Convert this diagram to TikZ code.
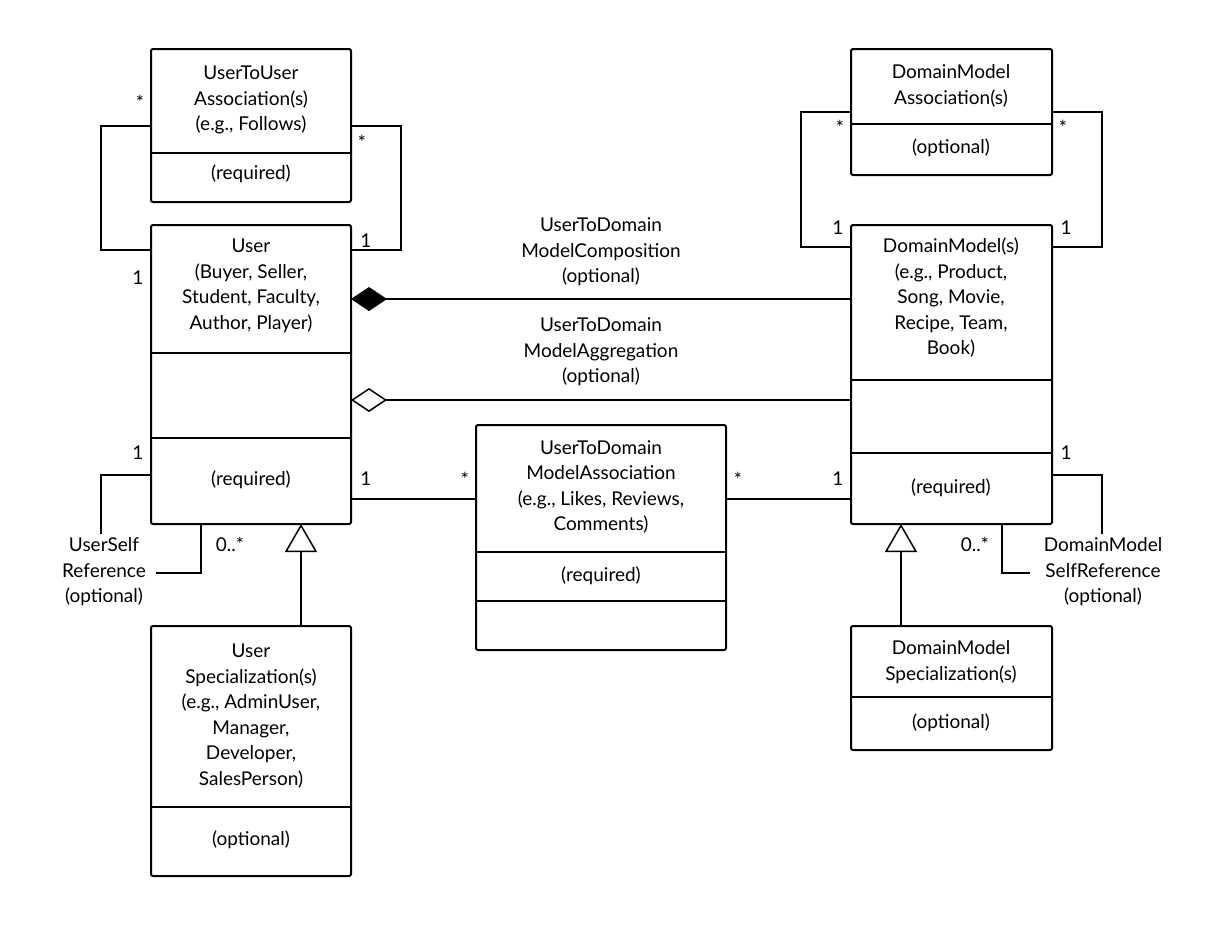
\documentclass[tikz,border=0pt]{standalone}
\usepackage{fontspec}
\setmainfont{Lato}
\usetikzlibrary{arrows.meta}
\begin{document}
\begin{tikzpicture}[x=1pt,y=-1pt,line width=2pt,
  box/.style={draw,rounded corners=2pt,inner sep=0pt},
  txt/.style={align=center,font=\fontsize{19}{25.5}\selectfont,inner sep=0pt},
  lbl/.style={font=\fontsize{19}{22}\selectfont,inner sep=0pt},
  comp/.style={-{Diamond[fill=black,length=36pt,width=24pt,line width=1.5pt]}},
  aggr/.style={-{Diamond[fill=white,length=36pt,width=24pt,line width=1.5pt]}},
  gen/.style={-{Triangle[open,fill=white,length=28pt,width=32pt,line width=1.5pt]}}]
\useasboundingbox (0,0) rectangle (1224,926);
% boxes
\draw[box] (151,49) rectangle (351,202) node[pos=0,anchor=north west,inner sep=0](uu){};
\coordinate (uuL) at (151,126); \coordinate (uuR) at (351,126);
\draw (151,153) -- (351,153);
\node[txt] (uut) at (251,100) {UserToUser\\Association(s)\\(e.g., Follows)};
\node[txt] (uur) at (251,174) {(required)};

\draw[box] (151,225) rectangle (351,524);
\draw (151,353) -- (351,353); \draw (151,438) -- (351,438);
\node[txt] (ut) at (251,286) {User\\(Buyer, Seller,\\Student, Faculty,\\Author, Player)};
\node[txt] (ur) at (251,480) {(required)};

\draw[box] (151,626) rectangle (351,876);
\draw (151,807) -- (351,807);
\node[txt] (ust) at (251,716) {User\\Specialization(s)\\(e.g., AdminUser,\\Manager,\\Developer,\\SalesPerson)};
\node[txt] (usr) at (251,840) {(optional)};

\draw[box] (851,49) rectangle (1052,175);
\draw (851,124) -- (1052,124);
\node[txt] (dat) at (951,86) {DomainModel\\Association(s)};
\node[txt] (dar) at (951,148) {(optional)};

\draw[box] (851,225) rectangle (1052,524);
\draw (851,380) -- (1052,380); \draw (851,453) -- (1052,453);
\node[txt] (dt) at (951,298) {DomainModel(s)\\(e.g., Product,\\Song, Movie,\\Recipe, Team,\\Book)};
\node[txt] (dr) at (951,488) {(required)};

\draw[box] (851,626) rectangle (1052,750);
\draw (851,697) -- (1052,697);
\node[txt] (dst) at (951,662) {DomainModel\\Specialization(s)};
\node[txt] (dsr) at (951,723) {(optional)};

\draw[box] (476,425) rectangle (726,650);
\draw (476,552) -- (726,552); \draw (476,601) -- (726,601);
\node[txt] (at) at (601,487) {UserToDomain\\ModelAssociation\\(e.g., Likes, Reviews,\\Comments)};
\node[txt] (ar) at (601,576) {(required)};

% self associations
\draw (151,250) -- (101,250) -- (101,126) -- (151,126);
\draw (351,250) -- (401,250) -- (401,126) -- (351,126);
\node[lbl] at (140,102) {*}; \node[lbl] at (138,278) {1};
\node[lbl] at (362,142) {*}; \node[lbl] at (366,241) {1};
\draw (851,247) -- (801,247) -- (801,112) -- (851,112);
\draw (1052,247) -- (1102,247) -- (1102,112) -- (1052,112);
\node[lbl] at (840,127) {*}; \node[lbl] at (838,228) {1};
\node[lbl] at (1063,127) {*}; \node[lbl] at (1066,228) {1};

% composition / aggregation
\draw[comp] (851,299) -- (351,299);
\node[txt] (cl) at (601,252) {UserToDomain\\ModelComposition\\(optional)};
\draw[aggr] (851,400) -- (351,400);
\node[txt] (al) at (601,352) {UserToDomain\\ModelAggregation\\(optional)};

% association
\draw (351,499) -- (476,499); \draw (726,499) -- (851,499);
\node[lbl] at (366,479) {1}; \node[lbl] at (465,479) {*};
\node[lbl] at (738,479) {*}; \node[lbl] at (838,479) {1};

% self references
\node[txt] (usrf) at (104,572) {UserSelf\\Reference\\(optional)};
\draw (151,475) -- (101,475) -- (101,534);
\draw (201,524) -- (201,573) -- (156,573);
\node[lbl] at (138,453) {1}; \node[lbl] at (230,544) {0..*};
\node[txt] (dsrf) at (1103,572) {DomainModel\\SelfReference\\(optional)};
\draw (1052,475) -- (1102,475) -- (1102,534);
\draw (1002,524) -- (1002,573) -- (1030,573);
\node[lbl] at (1066,453) {1}; \node[lbl] at (975,544) {0..*};

% generalization
\draw[gen] (301,626) -- (301,524);
\draw[gen] (901,626) -- (901,524);
\end{tikzpicture}
\end{document}
